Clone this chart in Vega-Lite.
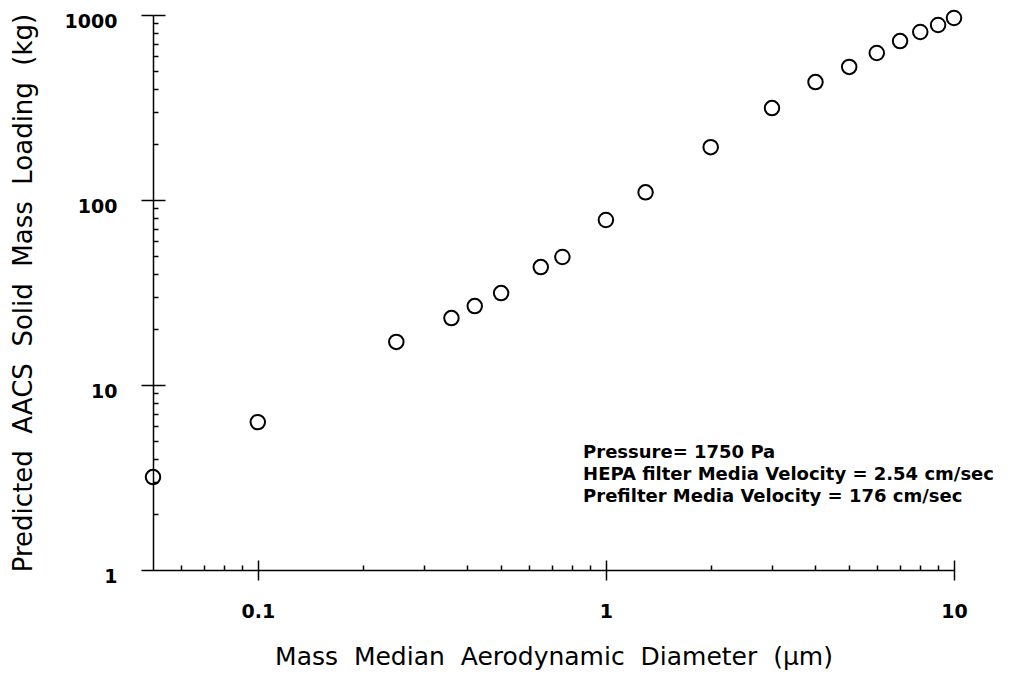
{
  "$schema": "https://vega.github.io/schema/vega-lite/v6.json",
  "width": 801,
  "height": 555,
  "autosize": {"type": "none"},
  "padding": {"left": 153, "top": 15, "right": 58, "bottom": 105},
  "background": "white",
  "config": {
    "view": {"stroke": null},
    "font": "DejaVu Sans",
    "axis": {
      "grid": false,
      "domainColor": "black",
      "tickColor": "black",
      "labelColor": "black",
      "titleColor": "black",
      "domainWidth": 1.5,
      "tickWidth": 1.5,
      "labelFont": "DejaVu Sans",
      "titleFont": "DejaVu Sans"
    }
  },
  "datasets": {
    "pts": [
      {"d": 0.05, "m": 3.18},
      {"d": 0.1, "m": 6.3},
      {"d": 0.25, "m": 17.1},
      {"d": 0.36, "m": 23.0},
      {"d": 0.42, "m": 26.7},
      {"d": 0.5, "m": 31.4},
      {"d": 0.65, "m": 43.4},
      {"d": 0.75, "m": 49.2},
      {"d": 1.0, "m": 78},
      {"d": 1.3, "m": 110},
      {"d": 2.0, "m": 193},
      {"d": 3.0, "m": 314},
      {"d": 4.0, "m": 434},
      {"d": 5.0, "m": 524},
      {"d": 6.0, "m": 623},
      {"d": 7.0, "m": 723},
      {"d": 8.0, "m": 809},
      {"d": 9.0, "m": 883},
      {"d": 10.0, "m": 963}
    ],
    "notes": [
      {"d": 0.86, "m": 4.3, "t": "Pressure= 1750 Pa"},
      {"d": 0.86, "m": 3.26, "t": "HEPA filter Media Velocity = 2.54 cm/sec"},
      {"d": 0.86, "m": 2.48, "t": "Prefilter Media Velocity = 176 cm/sec"}
    ]
  },
  "layer": [
    {
      "data": {"name": "pts"},
      "mark": {"type": "point", "opacity": 0},
      "encoding": {
        "x": {
          "field": "d", "type": "quantitative",
          "scale": {"type": "log", "domain": [0.05, 10], "nice": false},
          "axis": {
            "orient": "bottom",
            "values": [0.06, 0.07, 0.08, 0.09, 0.1, 0.2, 0.3, 0.4, 0.5, 0.6, 0.7, 0.8, 0.9, 1, 2, 3, 4, 5, 6, 7, 8, 9, 10],
            "labels": false,
            "domain": false,
            "title": null,
            "tickSize": {"condition": {"test": "datum.value == 0.1 || datum.value == 1 || datum.value == 10", "value": -10}, "value": -5}
          }
        },
        "y": {
          "field": "m", "type": "quantitative",
          "scale": {"type": "log", "domain": [1, 1000], "nice": false},
          "axis": {
            "orient": "left",
            "values": [2, 3, 4, 5, 6, 7, 8, 9, 10, 20, 30, 40, 50, 60, 70, 80, 90, 100, 200, 300, 400, 500, 600, 700, 800, 900, 1000],
            "labels": false,
            "domain": false,
            "title": null,
            "tickSize": {"condition": {"test": "datum.value == 10 || datum.value == 100 || datum.value == 1000", "value": -12}, "value": -5}
          }
        }
      }
    },
    {
      "data": {"name": "pts"},
      "mark": {"type": "point", "shape": "circle", "filled": false, "size": 210, "stroke": "black", "strokeWidth": 2, "opacity": 1},
      "encoding": {
        "x": {
          "field": "d", "type": "quantitative",
          "scale": {"type": "log", "domain": [0.05, 10], "nice": false},
          "axis": {
            "orient": "bottom",
            "values": [0.1, 1, 10],
            "labelExpr": "'' + datum.value",
            "labelFlush": false,
            "tickSize": 10,
            "labelPadding": 22,
            "labelFontSize": 19,
            "labelFontWeight": "bold",
            "title": "Mass\u00a0 Median\u00a0 Aerodynamic\u00a0 Diameter\u00a0 (µm)",
            "titleFontSize": 25,
            "titleFontWeight": "normal",
            "titlePadding": 23
          }
        },
        "y": {
          "field": "m", "type": "quantitative",
          "scale": {"type": "log", "domain": [1, 1000], "nice": false},
          "axis": {
            "orient": "left",
            "values": [1, 10, 100, 1000],
            "labelExpr": "'' + datum.value",
            "labelFlush": false,
            "labelOffset": 6,
            "tickSize": 12,
            "labelPadding": 24,
            "labelFontSize": 19,
            "labelFontWeight": "bold",
            "title": "Predicted\u00a0 AACS\u00a0 Solid\u00a0 Mass\u00a0 Loading\u00a0 (kg)",
            "titleFontSize": 26,
            "titleFontWeight": "normal",
            "titlePadding": 28
          }
        }
      }
    },
    {
      "data": {"name": "notes"},
      "mark": {"type": "text", "align": "left", "baseline": "middle", "fontSize": 18, "fontWeight": "bold", "font": "DejaVu Sans", "color": "black"},
      "encoding": {
        "x": {"field": "d", "type": "quantitative", "axis": null},
        "y": {"field": "m", "type": "quantitative", "axis": null},
        "text": {"field": "t"}
      }
    }
  ],
  "resolve": {"axis": {"x": "independent", "y": "independent"}}
}
